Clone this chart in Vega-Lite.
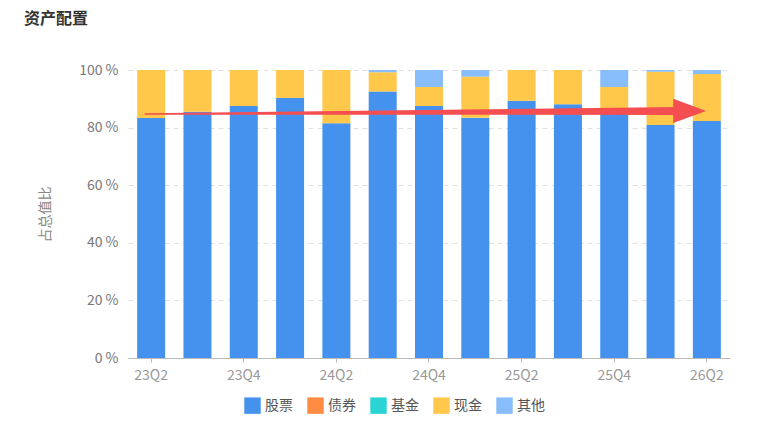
{
  "$schema": "https://vega.github.io/schema/vega-lite/v6.json",
  "autosize": {"type": "none"},
  "padding": {"left": 128, "top": 70, "right": 54, "bottom": 69},
  "width": 602,
  "height": 288,
  "background": "white",
  "title": {
    "text": "资产配置",
    "anchor": "start",
    "frame": "group",
    "dx": -104,
    "offset": 36,
    "fontSize": 16,
    "fontWeight": "bold",
    "color": "#333333"
  },
  "datasets": {
    "alloc": [
      {"q": "23Q2", "type": "股票", "pct": 83.3}, {"q": "23Q2", "type": "现金", "pct": 16.7},
      {"q": "23Q3", "type": "股票", "pct": 85.5}, {"q": "23Q3", "type": "现金", "pct": 14.5},
      {"q": "23Q4", "type": "股票", "pct": 87.5}, {"q": "23Q4", "type": "现金", "pct": 12.5},
      {"q": "24Q1", "type": "股票", "pct": 90.3}, {"q": "24Q1", "type": "现金", "pct": 9.7},
      {"q": "24Q2", "type": "股票", "pct": 81.5}, {"q": "24Q2", "type": "现金", "pct": 18.5},
      {"q": "24Q3", "type": "股票", "pct": 92.5}, {"q": "24Q3", "type": "现金", "pct": 6.7}, {"q": "24Q3", "type": "其他", "pct": 0.8},
      {"q": "24Q4", "type": "股票", "pct": 87.5}, {"q": "24Q4", "type": "现金", "pct": 6.6}, {"q": "24Q4", "type": "其他", "pct": 5.9},
      {"q": "25Q1", "type": "股票", "pct": 83.4}, {"q": "25Q1", "type": "现金", "pct": 14.3}, {"q": "25Q1", "type": "其他", "pct": 2.3},
      {"q": "25Q2", "type": "股票", "pct": 89.3}, {"q": "25Q2", "type": "现金", "pct": 10.7},
      {"q": "25Q3", "type": "股票", "pct": 88.1}, {"q": "25Q3", "type": "现金", "pct": 11.9},
      {"q": "25Q4", "type": "股票", "pct": 85.5}, {"q": "25Q4", "type": "现金", "pct": 8.6}, {"q": "25Q4", "type": "其他", "pct": 5.9},
      {"q": "26Q1", "type": "股票", "pct": 80.9}, {"q": "26Q1", "type": "现金", "pct": 18.5}, {"q": "26Q1", "type": "其他", "pct": 0.6},
      {"q": "26Q2", "type": "股票", "pct": 82.3}, {"q": "26Q2", "type": "现金", "pct": 16.3}, {"q": "26Q2", "type": "其他", "pct": 1.4}
    ],
    "shaft": [
      {"i": -0.13, "v": 84.7, "w": 0},
      {"i": 11.4, "v": 85.8, "w": 1}
    ],
    "head": [
      {"i": 11.63, "v": 85.8}
    ]
  },
  "layer": [
    {
      "data": {"name": "alloc"},
      "mark": {"type": "bar", "width": 28},
      "encoding": {
        "x": {
          "field": "q",
          "type": "ordinal",
          "sort": null,
          "scale": {"paddingInner": 0.4, "paddingOuter": 0.2},
          "axis": {
            "title": null,
            "values": ["23Q2", "23Q4", "24Q2", "24Q4", "25Q2", "25Q4", "26Q2"],
            "labelAngle": 0,
            "labelFontSize": 14,
            "labelColor": "#999999",
            "labelPadding": 6,
            "domainColor": "#bbbbbb",
            "tickColor": "#bbbbbb",
            "tickSize": 4,
            "grid": false
          }
        },
        "y": {
          "field": "pct",
          "type": "quantitative",
          "stack": "zero",
          "scale": {"domain": [0, 100]},
          "axis": {
            "title": "占总值比",
            "titleFontSize": 14,
            "titleFontWeight": "normal",
            "titleColor": "#888888",
            "titlePadding": 26,
            "values": [0, 20, 40, 60, 80, 100],
            "labelExpr": "datum.value + ' %'",
            "labelFontSize": 14,
            "labelColor": "#777777",
            "labelPadding": 10,
            "domain": false,
            "ticks": false,
            "grid": true,
            "gridColor": "#e0e0e0",
            "gridDash": [5, 4]
          }
        },
        "color": {
          "field": "type",
          "type": "nominal",
          "sort": ["股票", "债券", "基金", "现金", "其他"],
          "scale": {
            "domain": ["股票", "债券", "基金", "现金", "其他"],
            "range": ["#4592EE", "#FF8C42", "#2AD4D4", "#FFC84A", "#87BDFA"]
          },
          "legend": {
            "title": null,
            "orient": "none",
            "legendX": 116,
            "legendY": 327,
            "direction": "horizontal",
            "symbolType": "square",
            "symbolSize": 270,
            "symbolStrokeWidth": 0,
            "labelFontSize": 14,
            "labelColor": "#555555",
            "columnPadding": 14
          }
        },
        "order": {"field": "type", "sort": "descending"}
      }
    },
    {
      "data": {"name": "shaft"},
      "mark": {"type": "trail", "color": "#F44E50"},
      "encoding": {
        "x": {"field": "i", "type": "quantitative", "scale": {"domain": [-0.5, 12.5]}, "axis": null},
        "y": {"field": "v", "type": "quantitative"},
        "size": {"field": "w", "type": "quantitative", "scale": {"domain": [0, 1], "range": [1.5, 8]}, "legend": null}
      }
    },
    {
      "data": {"name": "head"},
      "mark": {"type": "point", "filled": true, "opacity": 1, "color": "#F44E50", "shape": "M-1,-0.73L1,0L-1,0.73Z", "size": 1089},
      "encoding": {
        "x": {"field": "i", "type": "quantitative", "scale": {"domain": [-0.5, 12.5]}, "axis": null},
        "y": {"field": "v", "type": "quantitative"}
      }
    }
  ],
  "resolve": {"scale": {"x": "independent"}},
  "config": {
    "font": "Noto Sans CJK SC",
    "view": {"stroke": null}
  }
}
